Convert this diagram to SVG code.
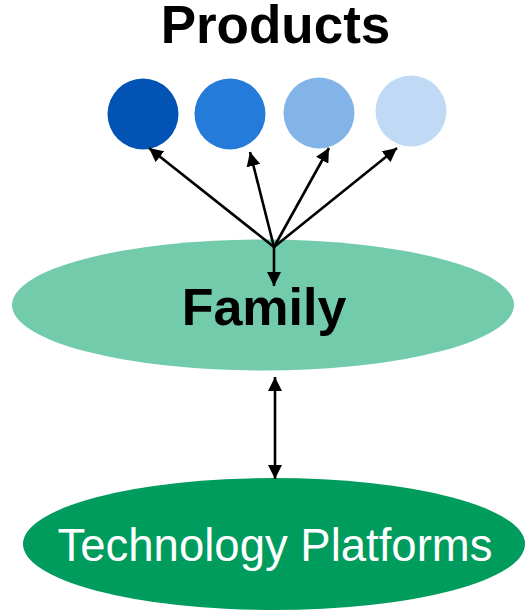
<svg xmlns="http://www.w3.org/2000/svg" width="530" height="613" viewBox="0 0 530 613">
<style>
.lbl{font-family:"Liberation Sans",Arial,sans-serif;text-anchor:middle}
.con{stroke:#000;stroke-width:2.6;fill:none;marker-end:url(#ah)}
</style>
<defs>
<marker id="ah" viewBox="0 0 14 14" refX="14" refY="7" markerWidth="14" markerHeight="14" markerUnits="userSpaceOnUse" orient="auto-start-reverse">
<path d="M0,0 L14,7 L0,14 z" fill="#000"/>
</marker>
</defs>
<rect width="530" height="613" fill="#fff"/>
<g id="products-title"><text class="lbl" x="275.5" y="43" font-size="53" font-weight="bold">Products</text></g>
<g id="product1"><circle cx="143" cy="114" r="35.5" fill="#0353B5"/></g>
<g id="product2"><circle cx="230" cy="114" r="35.5" fill="#247BDA"/></g>
<g id="product3"><circle cx="319" cy="113" r="35.5" fill="#82B4E7"/></g>
<g id="product4"><circle cx="411" cy="111" r="35.5" fill="#C0D9F4"/></g>
<g id="family">
<ellipse cx="263" cy="305" rx="251" ry="65.5" fill="#72CBAA"/>
<text class="lbl" x="264" y="325" font-size="52" font-weight="bold">Family</text>
</g>
<g id="tech">
<ellipse cx="274" cy="544" rx="251" ry="66" fill="#009C5E"/>
<text class="lbl" x="275" y="560.5" font-size="45.5" fill="#fff">Technology Platforms</text>
</g>
<g id="connectors">
<line class="con" x1="274" y1="247" x2="149" y2="148"/>
<line class="con" x1="274" y1="247" x2="250" y2="152"/>
<line class="con" x1="274" y1="247" x2="329" y2="148"/>
<line class="con" x1="274" y1="247" x2="397" y2="148"/>
<line class="con" x1="274" y1="247" x2="274" y2="286"/>
<line class="con" x1="275" y1="377" x2="275" y2="479" style="marker-start:url(#ah)"/>
</g>
</svg>
